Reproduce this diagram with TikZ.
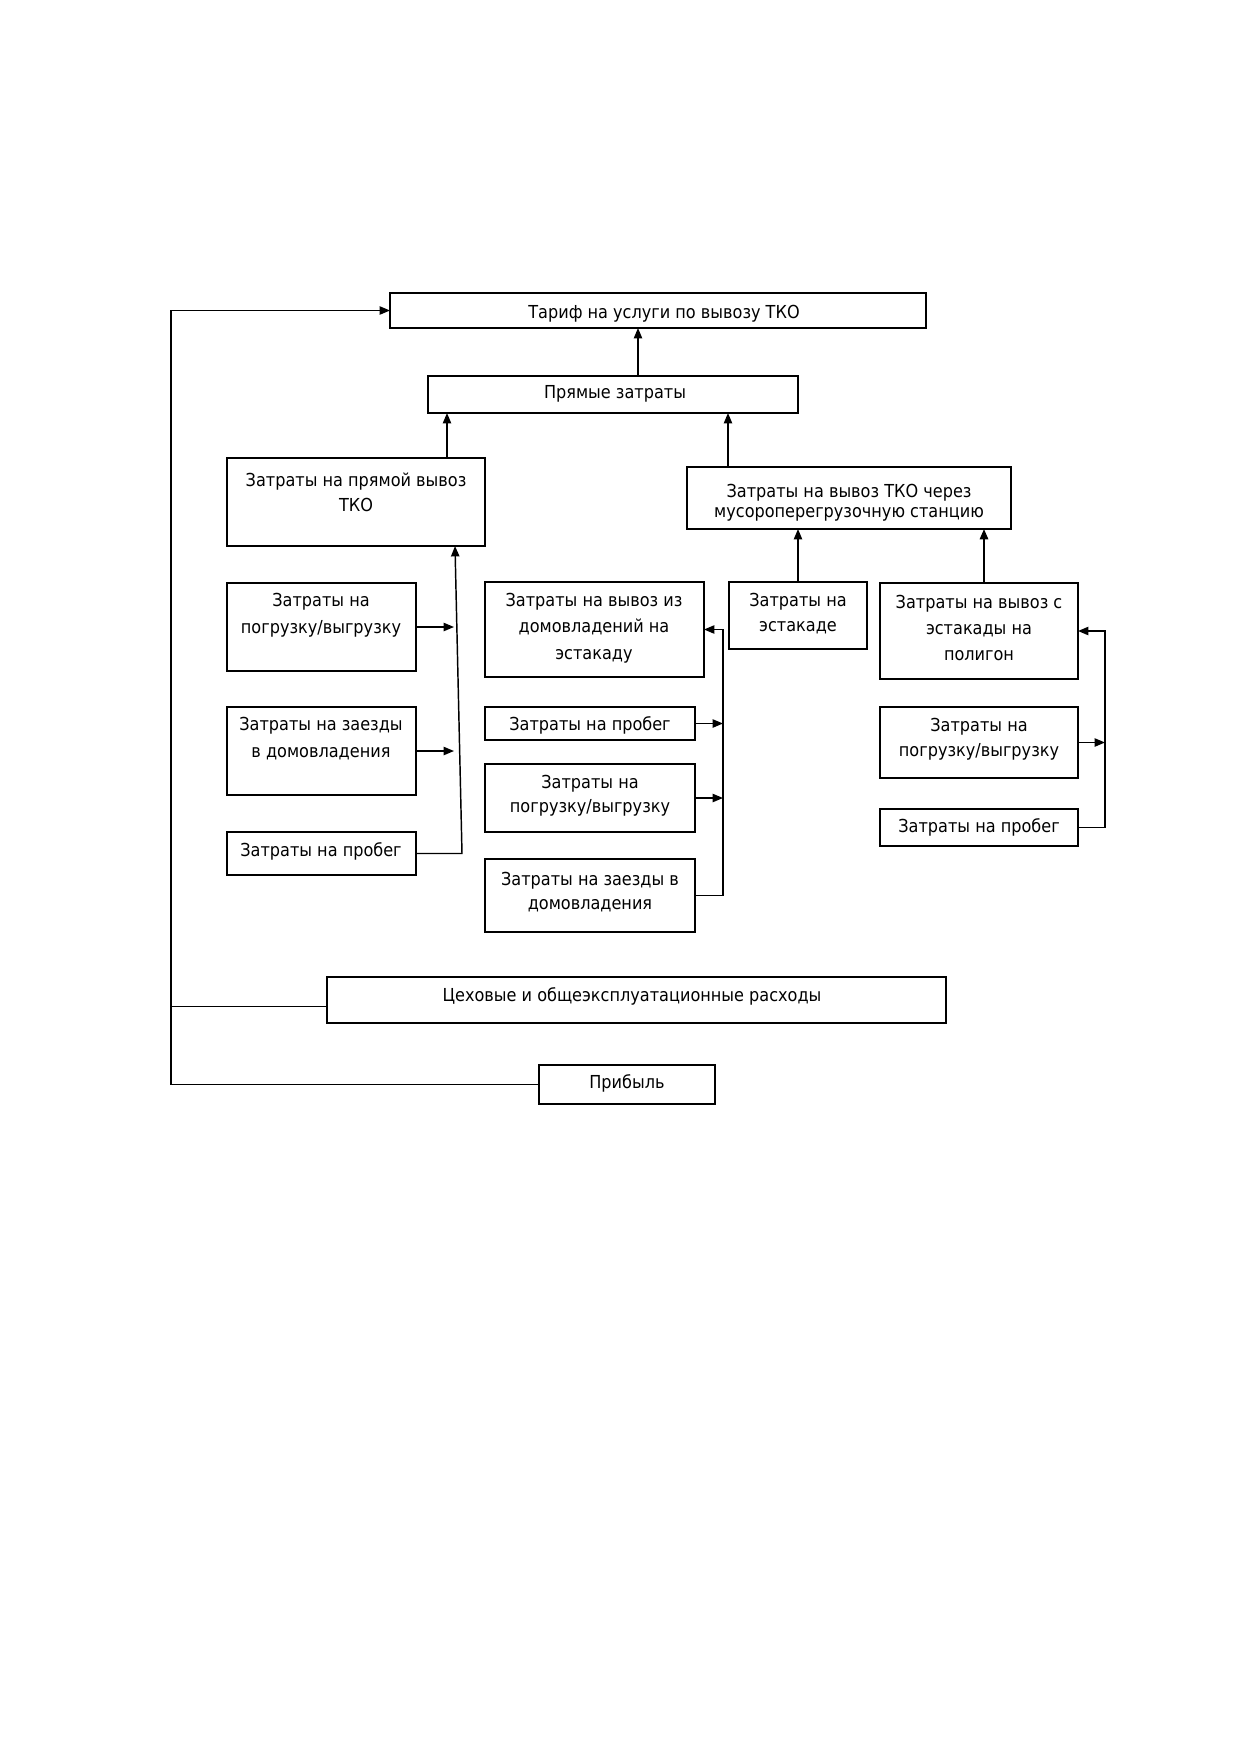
\documentclass[tikz,border=0pt]{standalone}
\usepackage{fontspec}
\setmainfont{DejaVu Sans}[FakeStretch=0.9]
\usetikzlibrary{arrows.meta}
\newcommand\cbox[5]{\node[box, minimum width={(#4-#2)*0.4805pt}, minimum height={(#5-#3)*0.4805pt}] (#1) at ({(#2+#4)/2},{(#3+#5)/2}) {};}
\newcommand\fs[1]{\fontsize{8.6}{#1}\selectfont}
\begin{document}
\begin{tikzpicture}[x=0.4805pt,y=-0.4805pt,
  box/.style={draw=black, line width=0.9pt, inner sep=0pt, outer sep=0pt},
  txt/.style={inner sep=0pt, align=center, font=\fs{12}},
  arr/.style={line width=0.7pt, -{Triangle[length=5pt,width=4pt]}},
  ln/.style={line width=0.7pt}]
\fill[white] (0,0) rectangle (1239,1754);
\useasboundingbox (0,0) rectangle (1239,1754);

% boxes
\cbox{tarif}{390}{293}{926}{328}
\cbox{pryam}{428}{376}{798}{413}
\cbox{direct}{227}{458}{485}{546}
\cbox{through}{687}{467}{1011}{529}
\cbox{lpog}{227}{583}{416}{671}
\cbox{lzaezd}{227}{707}{416}{795}
\cbox{lprob}{227}{832}{416}{875}
\cbox{mvyvoz}{485}{582}{704}{677}
\cbox{mprob}{485}{707}{695}{740}
\cbox{mpog}{485}{764}{695}{832}
\cbox{mzaezd}{485}{859}{695}{932}
\cbox{estak}{729}{582}{867}{649}
\cbox{svyvoz}{880}{583}{1078}{679}
\cbox{rpog}{880}{707}{1078}{778}
\cbox{rprob}{880}{809}{1078}{846}
\cbox{tseh}{327}{977}{946}{1023}
\cbox{prib}{539}{1065}{715}{1104}

% texts
\node[txt] (t1) at (664,314) {Тариф на услуги по вывозу ТКО};
\node[txt] (t2) at (615,394) {Прямые затраты};
\node[txt] (t3) at (356,492) {Затраты на прямой вывоз\\ТКО};
\node[txt, font=\fs{9.6}] (t4) at (849,503) {Затраты на вывоз ТКО через\\мусороперегрузочную станцию};
\node[txt, font=\fs{12.8}] (t5) at (321,615) {Затраты на\\погрузку/выгрузку};
\node[txt, font=\fs{13}] (t6) at (321,739) {Затраты на заезды\\в домовладения};
\node[txt] (t7) at (321,851) {Затраты на пробег};
\node[txt, font=\fs{12.6}] (t8) at (594,628) {Затраты на вывоз из\\домовладений на\\эстакаду};
\node[txt] (t9) at (590,725) {Затраты на пробег};
\node[txt, font=\fs{11.5}] (t10) at (590,796) {Затраты на\\погрузку/выгрузку};
\node[txt, font=\fs{11.5}] (t11) at (590,892) {Затраты на заезды в\\домовладения};
\node[txt] (t12) at (798,614) {Затраты на\\эстакаде};
\node[txt, font=\fs{12.6}] (t13) at (979,628) {Затраты на вывоз с\\эстакады на\\полигон};
\node[txt] (t14) at (979,739) {Затраты на\\погрузку/выгрузку};
\node[txt] (t15) at (979,827) {Затраты на пробег};
\node[txt] (t16) at (632,996) {Цеховые и общеэксплуатационные расходы};
\node[txt] (t17) at (627,1083) {Прибыль};

% helper x positions
\coordinate (c1) at (638,0);
\coordinate (c2) at (447,0);
\coordinate (c3) at (728,0);
\coordinate (c4) at (798,0);
\coordinate (c5) at (984,0);
\coordinate (lb) at (462,0);
\coordinate (lt) at (455,0);
\coordinate (la) at (454,0);
\coordinate (mb) at (723,0);
\coordinate (rb) at (1105,0);
\coordinate (fb) at (171,0);

% vertical links
\draw[arr] (pryam.north -| c1) -- (tarif.south -| c1);
\draw[arr] (direct.north -| c2) -- (pryam.south -| c2);
\draw[arr] (through.north -| c3) -- (pryam.south -| c3);
\draw[arr] (estak.north -| c4) -- (through.south -| c4);
\draw[arr, line width=1pt] (svyvoz.north -| c5) -- (through.south -| c5);

% left group
\draw[arr] (lprob.east) -- (lprob.east -| lb) -- (direct.south -| lt);
\draw[arr] (lpog.east) -- (lpog.east -| la);
\draw[arr] (lzaezd.east) -- (lzaezd.east -| la);

% middle group
\draw[arr] (mzaezd.east) -- (mzaezd.east -| mb) -- (mvyvoz.east -| mb) -- (mvyvoz.east);
\draw[arr] (mprob.east) -- (mprob.east -| mb);
\draw[arr] (mpog.east) -- (mpog.east -| mb);

% right group
\draw[arr] (rprob.east) -- (rprob.east -| rb) -- (svyvoz.east -| rb) -- (svyvoz.east);
\draw[arr] (rpog.east) -- (rpog.east -| rb);

% feedback
\draw[arr] (prib.west) -- (prib.west -| fb) -- (tarif.west -| fb) -- (tarif.west);
\draw[ln] ([yshift=-3pt]tseh.west) -- ([yshift=-3pt]tseh.west -| fb);
\end{tikzpicture}
\end{document}
